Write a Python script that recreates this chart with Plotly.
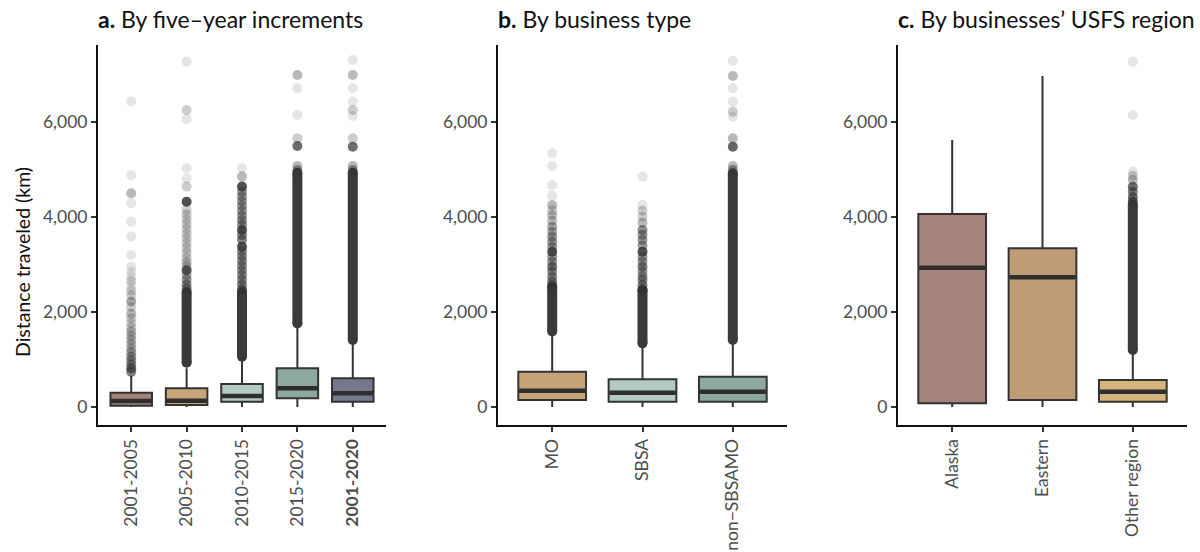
import plotly.graph_objects as go

# ---------------- data ----------------
# Panel a: by five-year increments
a_cats = ["2001-2005", "2005-2010", "2010-2015", "2015-2020", "<b>2001-2020</b>"]
a_q1 = [28, 42, 112, 182, 112]
a_med = [126, 133, 232, 393, 288]
a_q3 = [301, 393, 484, 814, 604]
a_lo = [2, 2, 2, 2, 2]
a_hi = [660, 814, 990, 1691, 1340]
a_dense_lo = [None, 930, 1060, 1760, 1410]
a_dense_hi = [None, 2420, 2420, 4930, 4930]
a_out = [
    [6430, 4880, 4500, 4290, 3900, 3590, 3200, 2950, 2850, 2750, 2650, 2550, 2450, 2350, 2220, 2100,
     1970, 1870, 1770, 1680, 1590, 1500, 1410, 1320, 1230, 1150, 1060, 980, 900, 814, 740],
    [7270, 6250, 6060, 5025, 4810, 4640, 4320, 4150, 4050, 3950, 3850, 3750, 3650, 3550, 3450, 3350,
     3250, 3150, 3050, 2960, 2880, 2780, 2680, 2580, 2490],
    [5025, 4850, 4640, 4530, 4430, 4330, 4230, 4130, 4030, 3930, 3830, 3726, 3620, 3520, 3375, 3280,
     3180, 3080, 2980, 2880, 2780, 2680, 2580, 2480],
    [6990, 6710, 6150, 5660, 5495, 5074, 4990],
    [7305, 6990, 6710, 6430, 6253, 6126, 5656, 5480, 5074, 4990],
]
a_out_n = [
    [1, 1, 3, 1, 1, 1, 1, 1, 1, 1, 2, 1, 2, 2, 4, 2, 3, 2, 2, 2, 3, 3, 3, 3, 3, 4, 5, 5, 6, 9, 7],
    [1, 2, 1, 1, 1, 2, 14, 2, 2, 2, 2, 2, 2, 2, 2, 2, 2, 2, 3, 3, 12, 4, 5, 6, 7],
    [1, 3, 14, 5, 5, 5, 5, 5, 5, 6, 6, 14, 7, 7, 14, 6, 6, 6, 6, 6, 6, 6, 7, 8],
    [3, 1, 1, 2, 9, 3, 5],
    [1, 3, 1, 1, 2, 1, 2, 9, 3, 5],
]
a_colors = ["#a5827a", "#c8a578", "#b4cac5", "#8da7a1", "#76798d"]

# Panel b: by business type
b_cats = ["MO", "SBSA", "non\u2212SBSAMO"]
b_q1 = [147, 112, 112]
b_med = [344, 302, 323]
b_q3 = [744, 583, 638]
b_lo = [2, 2, 2]
b_hi = [1551, 1270, 1340]
b_dense_lo = [1590, 1340, 1411]
b_dense_hi = [2530, 2460, 4920]
b_out = [
    [5340, 5074, 4674, 4450, 4253, 4140, 4042, 3920, 3796, 3690, 3586, 3480, 3375, 3270, 3160, 3060,
     2954, 2850, 2743, 2640, 2560],
    [4850, 4253, 4130, 4007, 3880, 3726, 3620, 3516, 3400, 3270, 3160, 3060, 2954, 2850, 2750, 2674,
     2570, 2480],
    [7290, 6968, 6709, 6428, 6217, 6112, 5656, 5480, 5074, 4990],
]
b_out_n = [
    [1, 1, 1, 1, 3, 2, 3, 3, 4, 4, 5, 5, 5, 14, 5, 5, 8, 6, 6, 7, 8],
    [1, 1, 2, 2, 3, 6, 5, 5, 5, 14, 5, 5, 7, 5, 5, 6, 7, 8],
    [1, 3, 1, 1, 2, 1, 3, 10, 3, 5],
]
b_colors = ["#c7a477", "#b4cac5", "#8da7a1"]

# Panel c: by businesses' USFS region
c_cats = ["Alaska", "Eastern", "Other region"]
c_q1 = [77, 147, 112]
c_med = [2933, 2730, 323]
c_q3 = [4063, 3340, 568]
c_lo = [2, 2, 2]
c_hi = [5621, 6968, 1130]
c_dense_lo = [None, None, 1200]
c_dense_hi = [None, None, 4250]
c_out = [
    [],
    [],
    [7270, 6147, 4954, 4870, 4779, 4638, 4530, 4420, 4322],
]
c_out_n = [
    [],
    [],
    [1, 1, 1, 2, 3, 9, 7, 9, 14],
]
c_colors = ["#a5827a", "#bf9c75", "#d6b47e"]

titles = ["<b>a.</b> By five\u2013year increments", "<b>b.</b> By business type",
          "<b>c.</b> By businesses\u2019 USFS region"]
y_title = "Distance traveled (km)"
y_ticks = [0, 2000, 4000, 6000]

# ---------------- layout geometry ----------------
W, H = 1200, 552
FONT = "Lato"
panels_px = [(98, 386), (498, 787), (898, 1187)]
y_top_px, y_bot_px = 45, 425
y_range = [-379, 7621]
BOX_W = 0.75
OUT_ALPHA = 0.13
PT_COLOR = "51,51,51"

fig = go.Figure()

panels = [
    (a_cats, a_q1, a_med, a_q3, a_lo, a_hi, a_dense_lo, a_dense_hi, a_out, a_out_n, a_colors),
    (b_cats, b_q1, b_med, b_q3, b_lo, b_hi, b_dense_lo, b_dense_hi, b_out, b_out_n, b_colors),
    (c_cats, c_q1, c_med, c_q3, c_lo, c_hi, c_dense_lo, c_dense_hi, c_out, c_out_n, c_colors),
]

for p, (cats, q1, med, q3, lo, hi, dlo, dhi, outs, outn, cols) in enumerate(panels):
    xa = "x" if p == 0 else f"x{p+1}"
    ya = "y" if p == 0 else f"y{p+1}"
    n = len(cats)
    # boxes
    for i in range(n):
        fig.add_trace(go.Box(
            x=[i + 1], q1=[q1[i]], median=[med[i]], q3=[q3[i]],
            lowerfence=[lo[i]], upperfence=[hi[i]],
            width=BOX_W, whiskerwidth=0, boxpoints=False,
            fillcolor=cols[i], line=dict(color="#333333", width=2),
            xaxis=xa, yaxis=ya, showlegend=False, hoverinfo="skip"))
    # dense outlier bands
    for i in range(n):
        if dlo[i] is None:
            continue
        fig.add_trace(go.Scatter(
            x=[i + 1, i + 1], y=[dlo[i], dhi[i]], mode="lines+markers",
            line=dict(color="rgb(58,58,58)", width=10),
            marker=dict(size=10, color="rgb(58,58,58)"),
            xaxis=xa, yaxis=ya, showlegend=False, hoverinfo="skip"))
    # sparse outliers
    for i in range(n):
        if not outs[i]:
            continue
        ops = [1 - (1 - OUT_ALPHA) ** k for k in outn[i]]
        fig.add_trace(go.Scatter(
            x=[i + 1] * len(outs[i]), y=outs[i], mode="markers",
            marker=dict(size=10, color=[f"rgba({PT_COLOR},{o:.3f})" for o in ops], line=dict(width=0)),
            xaxis=xa, yaxis=ya, showlegend=False, hoverinfo="skip"))
    # thick median lines
    for i in range(n):
        fig.add_trace(go.Scatter(
            x=[i + 1 - BOX_W / 2 + 0.01, i + 1 + BOX_W / 2 - 0.01], y=[med[i], med[i]], mode="lines",
            line=dict(color="#2e2e2e", width=4.5),
            xaxis=xa, yaxis=ya, showlegend=False, hoverinfo="skip"))

    x0, x1 = panels_px[p]
    axis_common = dict(showgrid=False, zeroline=False, showline=True, linecolor="#111111", linewidth=2,
                       ticks="outside", ticklen=5, tickwidth=1.5, tickcolor="#333333",
                       tickfont=dict(family=FONT, size=17.5, color="#4d4d4d"))
    fig.update_layout(**{
        ("xaxis" if p == 0 else f"xaxis{p+1}"): dict(
            domain=[x0 / W, x1 / W], anchor=ya, range=[0.4, n + 0.6],
            tickvals=list(range(1, n + 1)), ticktext=cats, tickangle=-90, **axis_common),
        ("yaxis" if p == 0 else f"yaxis{p+1}"): dict(
            domain=[1 - y_bot_px / H, 1 - y_top_px / H], anchor=xa, range=y_range,
            tickvals=y_ticks, tickformat=",", **axis_common),
    })
    fig.add_annotation(text=titles[p], xref="paper", yref="paper", x=(x0 - 2) / W, y=1 - 19 / H,
                       xanchor="left", yanchor="middle", showarrow=False,
                       font=dict(family=FONT, size=23, color="#111111"))

fig.add_annotation(text=y_title, xref="paper", yref="paper", x=22 / W, y=1 - 262 / H,
                   xanchor="center", yanchor="middle", textangle=-90, showarrow=False,
                   font=dict(family=FONT, size=19.5, color="#111111"))

fig.update_layout(width=W, height=H, margin=dict(l=0, r=0, t=0, b=0),
                  paper_bgcolor="white", plot_bgcolor="white", showlegend=False)

fig.write_html("out.html", config={"displayModeBar": False},
               post_script="document.body.style.margin='0px';document.body.style.padding='0px';"
                           "document.body.style.overflow='hidden';")
